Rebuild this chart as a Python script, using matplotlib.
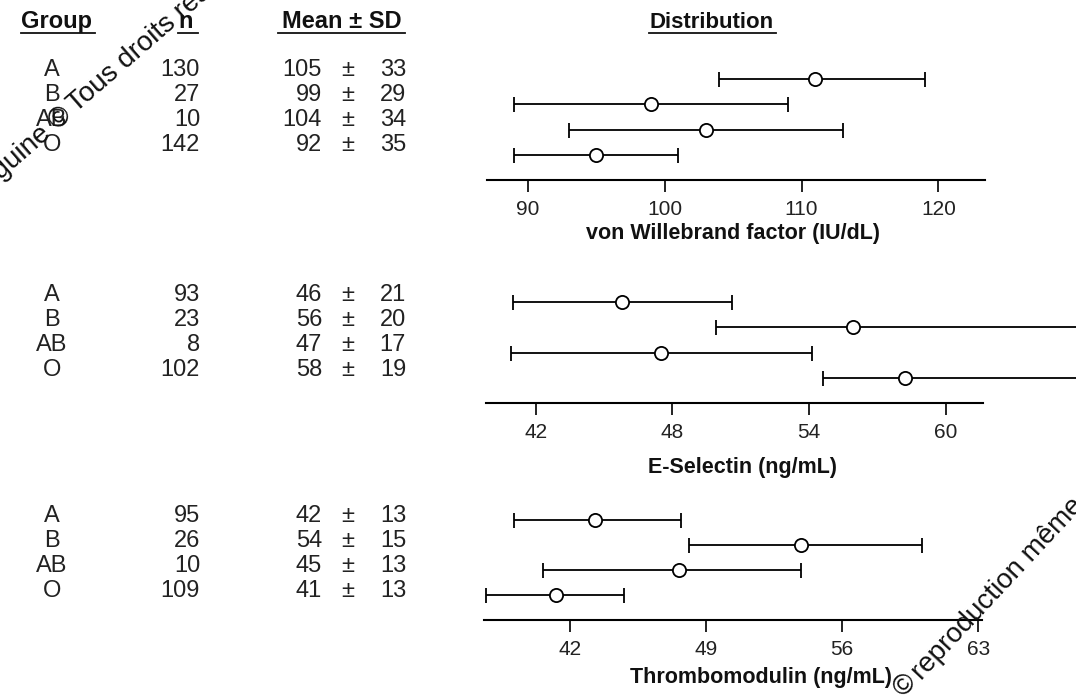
import matplotlib
matplotlib.use("Agg")
import matplotlib.pyplot as plt
from matplotlib.lines import Line2D

plt.rcParams['font.family'] = ['Liberation Sans', 'DejaVu Sans']

# ---- data ----
groups = ["A", "B", "AB", "O"]

vwf_n = [130, 27, 10, 142]
vwf_mean = [105, 99, 104, 92]
vwf_sd = [33, 29, 34, 35]
vwf_center = [111, 99, 103, 95]
vwf_low = [104, 89, 93, 89]
vwf_high = [119, 109, 113, 101]
vwf_ticks = [90, 100, 110, 120]

esel_n = [93, 23, 8, 102]
esel_mean = [46, 56, 47, 58]
esel_sd = [21, 20, 17, 19]
esel_center = [45.8, 55.9, 47.5, 58.2]
esel_low = [41.0, 49.9, 40.9, 54.6]
esel_high = [50.6, 66.0, 54.1, 66.0]
esel_ticks = [42, 48, 54, 60]

tm_n = [95, 26, 10, 109]
tm_mean = [42, 54, 45, 41]
tm_sd = [13, 15, 13, 13]
tm_center = [43.3, 53.9, 47.6, 41.3]
tm_low = [39.1, 48.1, 40.6, 37.7]
tm_high = [47.7, 60.1, 53.9, 44.8]
tm_ticks = [42, 49, 56, 63]

labels = ["von Willebrand factor (IU/dL)", "E-Selectin (ng/mL)", "Thrombomodulin (ng/mL)"]

W, H = 1076, 698


def fx(px):
    return px / W


def fy(py):
    return 1 - py / H


fig = plt.figure(figsize=(W / 100, H / 100), dpi=100)

# layout of each panel in pixels: top of axes, axis line, xlim, spine extent, label centre, table rows
panels = [
    dict(n=vwf_n, mean=vwf_mean, sd=vwf_sd, c=vwf_center, lo=vwf_low, hi=vwf_high, ticks=vwf_ticks,
         top=53.75, base=180, xlim=(86.37, 130.05), bounds=(87.0, 123.4), lab=(733, 233),
         rows=[67, 92, 117, 142]),
    dict(n=esel_n, mean=esel_mean, sd=esel_sd, c=esel_center, lo=esel_low, hi=esel_high, ticks=esel_ticks,
         top=276.3, base=403.3, xlim=(39.47, 65.7), bounds=(39.8, 61.6), lab=(743, 467),
         rows=[292, 317, 342, 367]),
    dict(n=tm_n, mean=tm_mean, sd=tm_sd, c=tm_center, lo=tm_low, hi=tm_high, ticks=tm_ticks,
         top=495, base=620, xlim=(37.27, 68.03), bounds=(37.6, 63.2), lab=(761, 678),
         rows=[513, 538, 563, 588]),
]

left_px = 478
for p, label in zip(panels, labels):
    ax = fig.add_axes([fx(left_px), fy(p["base"]), 1 - fx(left_px), (p["base"] - p["top"]) / H])
    ax.set_xlim(*p["xlim"])
    ax.set_ylim(4, -1)
    ypos = list(range(len(groups)))
    xerr = [[c - l for c, l in zip(p["c"], p["lo"])], [h - c for c, h in zip(p["c"], p["hi"])]]
    ax.errorbar(p["c"], ypos, xerr=xerr, fmt='o', ms=9.5, mfc='white', mec='black', mew=1.3,
                ecolor='black', elinewidth=1.3, capsize=5.4, capthick=1.3, zorder=3)
    for s in ["left", "right", "top"]:
        ax.spines[s].set_visible(False)
    ax.spines["bottom"].set_linewidth(1.5)
    ax.spines["bottom"].set_bounds(*p["bounds"])
    ax.set_yticks([])
    ax.set_xticks(p["ticks"])
    ax.tick_params(axis='x', length=8.6, width=1.4, pad=5.5, labelsize=15, colors='#222222')
    ax.patch.set_alpha(0)

    fig.text(fx(p["lab"][0]), fy(p["lab"][1]), label, ha='center', va='center',
             fontsize=15.5, fontweight='bold', color='#111111')

    # table on the left
    for g, n, m, sd, r in zip(groups, p["n"], p["mean"], p["sd"], p["rows"]):
        yb = fy(r + 8.6)
        fig.text(fx(52), yb, g, ha='center', va='baseline', fontsize=17, color='#222222')
        fig.text(fx(200), yb, str(n), ha='right', va='baseline', fontsize=17, color='#222222')
        fig.text(fx(322), yb, str(m), ha='right', va='baseline', fontsize=17, color='#222222')
        fig.text(fx(348), yb, "±", ha='center', va='baseline', fontsize=17, color='#222222')
        fig.text(fx(406), yb, str(sd), ha='right', va='baseline', fontsize=17, color='#222222')

# headers with underlines
headers = [("Group", 57, 17, (21, 95)), ("n", 186, 17, (178, 198)),
           ("Mean ± SD", 342, 17, (278, 405)), ("Distribution", 712, 16, (649, 776))]
for text, cx, size, (u0, u1) in headers:
    fig.text(fx(cx), fy(28), text, ha='center', va='baseline', fontsize=size,
             fontweight='bold', color='#111111')
    fig.add_artist(Line2D([fx(u0), fx(u1)], [fy(33), fy(33)], color='#111111', lw=1.3))

# copyright stamps printed across the scan
fig.text(fx(73), fy(117), "sanguine ©", rotation=41, rotation_mode='anchor',
         ha='right', va='baseline', fontsize=20, color='#111111')
fig.text(fx(76), fy(113), "Tous droits réservés", rotation=41, rotation_mode='anchor',
         ha='left', va='baseline', fontsize=20, color='#111111')
fig.text(fx(918), fy(683), "©", rotation=47, rotation_mode='anchor',
         ha='right', va='baseline', fontsize=20, color='#111111')
fig.text(fx(922), fy(681), "reproduction même partielle interdite", rotation=47,
         rotation_mode='anchor', ha='left', va='baseline', fontsize=20, color='#111111')

fig.savefig("out.png", dpi=100)
